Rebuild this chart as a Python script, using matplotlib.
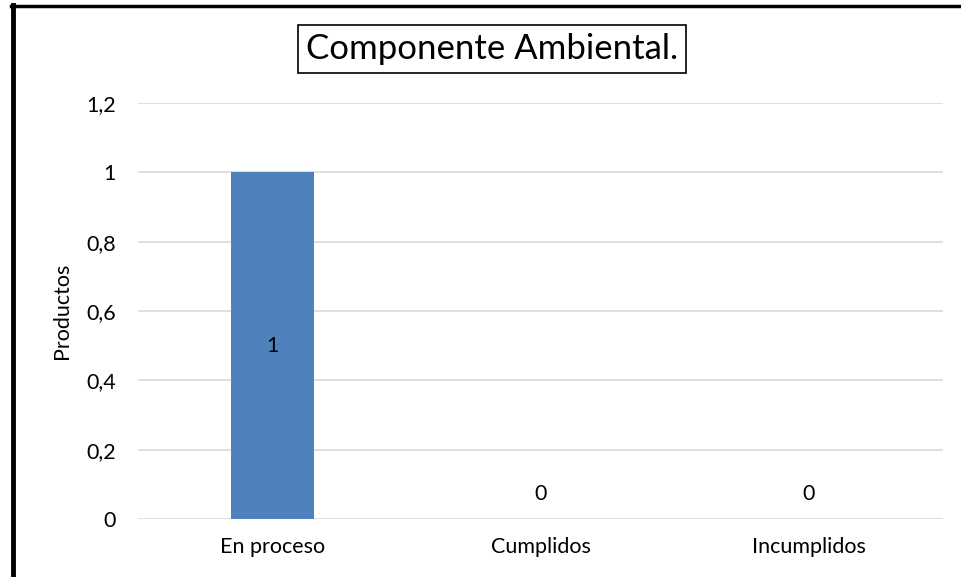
import matplotlib
matplotlib.use("Agg")
import matplotlib.pyplot as plt
from matplotlib.ticker import FuncFormatter

categories = ["En proceso", "Cumplidos", "Incumplidos"]
values = [1, 0, 0]
yticks = [0, 0.2, 0.4, 0.6, 0.8, 1.0, 1.2]
title = "Componente Ambiental."
ylabel = "Productos"

plt.rcParams["font.family"] = ["Lato", "DejaVu Sans"]

fig = plt.figure(figsize=(9.62, 5.77), dpi=100)
ax = fig.add_axes([138 / 962, 1 - 519 / 577, (943 - 138) / 962, (519 - 103) / 577])

x = range(len(categories))
ax.bar(x, values, width=0.31, color="#4F81BD", zorder=3)
ax.set_xlim(-0.5, len(categories) - 0.5)
ax.set_ylim(0, 1.2)
ax.set_yticks(yticks)
ax.yaxis.set_major_formatter(FuncFormatter(lambda v, p: f"{v:g}".replace(".", ",")))
ax.set_xticks(list(x))
ax.set_xticklabels(categories)
ax.tick_params(axis="both", length=0, labelsize=15.5, colors="#000000")
ax.tick_params(axis="y", pad=16)
ax.tick_params(axis="x", pad=13)
ax.grid(axis="y", color="#D9D9D9", linewidth=1.2, zorder=0)
for s in ax.spines.values():
    s.set_visible(False)
ax.set_ylabel(ylabel, fontsize=15.5)
ax.yaxis.set_label_coords(-66 / 805, 0.5)

for xi, v in zip(x, values):
    if v > 0:
        ax.text(xi, v / 2, str(v), ha="center", va="center", fontsize=15.5, zorder=4)
    else:
        ax.annotate(str(v), (xi, 0), xytext=(0, 11), textcoords="offset points",
                    ha="center", va="bottom", fontsize=15.5)

fig.text(492 / 962, 1 - 49 / 577, title, ha="center", va="center", fontsize=25,
         bbox=dict(boxstyle="square,pad=0.24", facecolor="white", edgecolor="black", linewidth=1.2))

# outer frame lines (left and top)
fig.add_artist(plt.Line2D([12.5 / 962, 12.5 / 962], [0, 1 - 5 / 577], color="black", linewidth=3.5,
                          transform=fig.transFigure))
fig.add_artist(plt.Line2D([11 / 962, 1], [1 - 5.5 / 577, 1 - 5.5 / 577], color="black", linewidth=2.5,
                          transform=fig.transFigure))

fig.savefig("out.png", dpi=100)
